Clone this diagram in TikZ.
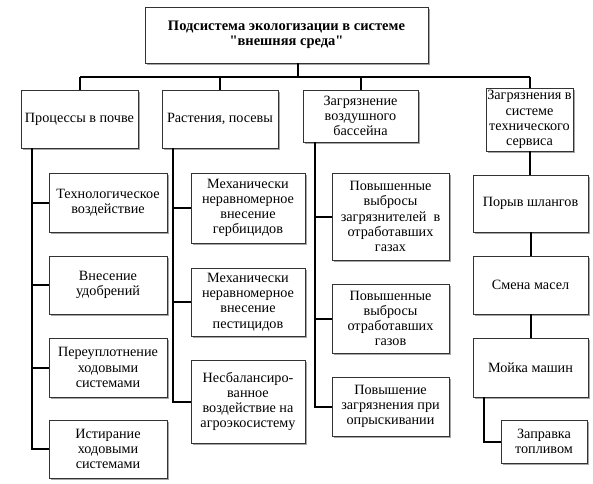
\documentclass[tikz,border=0pt]{standalone}
\usepackage{fontspec}
\setmainfont{Liberation Serif}[Ligatures=TeXOff]
\usetikzlibrary{shadows}
\begin{document}
\begin{tikzpicture}[x=1pt,y=-1pt,
  box/.style={draw=black!80, line width=0.8pt, fill=white, align=center, inner sep=0pt,
    font=\fontsize{14.2}{15.2}\selectfont,
    drop shadow={shadow xshift=1.8pt, shadow yshift=-1.8pt, fill=black!35, opacity=1}},
  conn/.style={draw=black, line width=2pt}]
\useasboundingbox (0,0) rectangle (593,483);
% top
\node[box, minimum width=283pt, minimum height=56pt, font=\bfseries\fontsize{14.5}{15.5}\selectfont] (top) at (286.5,35) {Подсистема экологизации в системе\\"внешняя среда"};
% headers
\node[box, minimum width=117pt, minimum height=58pt] (c1) at (79.5,119) {Процессы в почве};
\node[box, minimum width=116pt, minimum height=58pt] (c2) at (220,119) {Растения, посевы};
\node[box, minimum width=115pt, minimum height=52pt] (c3) at (360.5,116) {Загрязнение\\воздушного\\бассейна};
\node[box, minimum width=87pt, minimum height=63pt] (c4) at (529.5,119.5) {Загрязнения в\\системе\\технического\\сервиса};
% column 1
\node[box, minimum width=118pt, minimum height=59pt] (a1) at (108,202.5) {Технологическое\\воздействие};
\node[box, minimum width=118pt, minimum height=58pt] (a2) at (108,285) {Внесение\\удобрений};
\node[box, minimum width=118pt, minimum height=59pt] (a3) at (108,367.5) {Переуплотнение\\ходовыми\\системами};
\node[box, minimum width=118pt, minimum height=58pt] (a4) at (108,449) {Истирание\\ходовыми\\системами};
% column 2
\node[box, minimum width=114pt, minimum height=70pt] (b1) at (248,208) {Механически\\неравномерное\\внесение\\гербицидов};
\node[box, minimum width=114pt, minimum height=68pt] (b2) at (248,302) {Механически\\неравномерное\\внесение\\пестицидов};
\node[box, minimum width=114pt, minimum height=83pt] (b3) at (248,401.5) {Несбалансиро-\\ванное\\воздействие на\\агроэкосистему};
% column 3
\node[box, minimum width=117pt, minimum height=87pt] (d1) at (390.5,216.5) {Повышенные\\выбросы\\загрязнителей\ \ в\\отработавших\\газах};
\node[box, minimum width=117pt, minimum height=69pt] (d2) at (390.5,318.5) {Повышенные\\выбросы\\отработавших\\газов};
\node[box, minimum width=117pt, minimum height=59pt] (d3) at (390.5,406.5) {Повышение\\загрязнения при\\опрыскивании};
% column 4
\node[box, minimum width=115pt, minimum height=57pt] (e1) at (530.5,203.5) {Порыв шлангов};
\node[box, minimum width=115pt, minimum height=58pt] (e2) at (530.5,285) {Смена масел};
\node[box, minimum width=115pt, minimum height=59pt] (e3) at (530.5,367.5) {Мойка машин};
\node[box, minimum width=86pt, minimum height=43pt] (e4) at (544,441.5) {Заправка\\топливом};
% bus
\coordinate (tp) at (298,0);
\coordinate (bus) at (0,77);
\draw[conn] (top.south -| tp) -- (tp |- bus);
\draw[conn] (bus -| c1.north) -- (bus -| c4.north);
\draw[conn] (bus -| c1.north) -- (c1.north);
\draw[conn] (bus -| c2.north) -- (c2.north);
\draw[conn] (bus -| c3.north) -- (c3.north);
\draw[conn] (bus -| c4.north) -- (c4.north);
% column 1 trunk
\coordinate (t1) at (32,0);
\draw[conn] (c1.south -| t1) |- (a4.west);
\draw[conn] (t1 |- a1.west) -- (a1.west);
\draw[conn] (t1 |- a2.west) -- (a2.west);
\draw[conn] (t1 |- a3.west) -- (a3.west);
% column 2 trunk
\coordinate (t2) at (173,0);
\draw[conn] (c2.south -| t2) |- (b3.west);
\draw[conn] (t2 |- b1.west) -- (b1.west);
\draw[conn] (t2 |- b2.west) -- (b2.west);
% column 3 trunk
\coordinate (t3) at (315,0);
\draw[conn] (c3.south -| t3) |- (d3.west);
\draw[conn] (t3 |- d1.west) -- (d1.west);
\draw[conn] (t3 |- d2.west) -- (d2.west);
% column 4 chain
\draw[conn] (c4.south) -- (c4.south |- e1.north);
\draw[conn] (e1.south) -- (e1.south |- e2.north);
\draw[conn] (e2.south) -- (e2.south |- e3.north);
\coordinate (t4) at (484,0);
\draw[conn] (e3.south -| t4) |- (e4.west);
\end{tikzpicture}
\end{document}
